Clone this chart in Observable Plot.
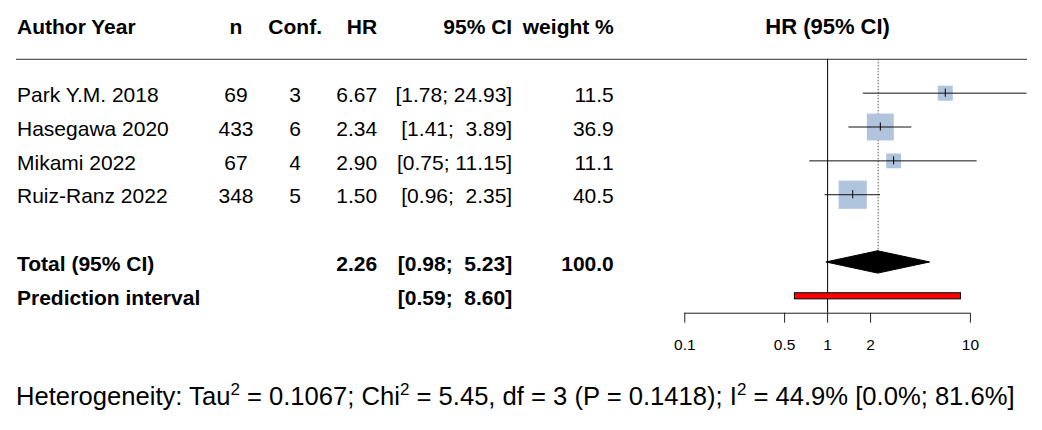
<!DOCTYPE html>
<html>
<head>
<meta charset="utf-8">
<script src="https://cdn.jsdelivr.net/npm/d3@7"></script>
<script src="https://cdn.jsdelivr.net/npm/@observablehq/plot@0.6"></script>
<style>
  html, body { margin: 0; padding: 0; background: #fff; }
  #wrap { position: relative; width: 1042px; height: 430px; font-family: "Liberation Sans", Arial, sans-serif; }
  #chart { position: absolute; left: 0; top: 0; }
  #het { position: absolute; left: 16px; top: 383.5px; font-size: 25.6px; line-height: 1; color: #000; white-space: nowrap; }
  #het sup { font-size: 17px; line-height: 0; vertical-align: 10px; }
</style>
</head>
<body>
<div id="wrap">
  <div id="chart"></div>
  <div id="het"></div>
</div>
<script>
// ---- data ----
const authors = ["Park Y.M. 2018", "Hasegawa 2020", "Mikami 2022", "Ruiz-Ranz 2022"];
const nPatients = [69, 433, 67, 348];
const confounders = [3, 6, 4, 5];
const hrValues = [6.67, 2.34, 2.90, 1.50];
const ciLow = [1.78, 1.41, 0.75, 0.96];
const ciHigh = [24.93, 3.89, 11.15, 2.35];
const weights = [11.5, 36.9, 11.1, 40.5];

const totalHR = 2.26, totalLow = 0.98, totalHigh = 5.23, totalWeight = 100.0;
const predLow = 0.59, predHigh = 8.60;

const axisTicks = [0.1, 0.5, 1, 2, 10];
const headerLabels = ["Author Year", "n", "Conf.", "HR", "95% CI", "weight %"];
const forestTitle = "HR (95% CI)";

const tau2 = 0.1067, chi2 = 5.45, dfHet = 3, pHet = 0.1418, i2 = 44.9, i2Low = 0.0, i2High = 81.6;

// ---- formatting ----
const NB = "\u00a0";
const f2 = v => v.toFixed(2);
const padTo = (s, n) => NB.repeat(Math.max(0, n - s.length)) + s;
const hiWidth = Math.max(...ciHigh.map(v => f2(v).length));
const loWidth = Math.max(...ciLow.map(v => f2(v).length));
const ciText = (lo, hi) => "[" + padTo(f2(lo), loWidth) + "; " + padTo(f2(hi), hiWidth) + "]";

const rows = authors.map((a, i) => ({
  row: i + 1,
  c0: a,
  c1: String(nPatients[i]),
  c2: String(confounders[i]),
  c3: f2(hrValues[i]),
  c4: ciText(ciLow[i], ciHigh[i]),
  c5: weights[i].toFixed(1),
  hr: hrValues[i], lo: ciLow[i], hi: ciHigh[i], w: weights[i]
}));

const totalRow = 6, predRow = 7;
const summaryRows = [
  {row: totalRow, c0: "Total (95% CI)", c1: "", c2: "", c3: f2(totalHR), c4: ciText(totalLow, totalHigh), c5: totalWeight.toFixed(1)},
  {row: predRow, c0: "Prediction interval", c1: "", c2: "", c3: "", c4: ciText(predLow, predHigh), c5: ""}
];

// ---- layout (not data) ----
const headerRow = -0.95;
const axisRow = 7.5;
const tickLen = 0.295;
const diamondHalf = 0.33;
const TFS = 21;
const colPos = [
  {x: 16.5, anchor: "start"},
  {x: 235.5, anchor: "middle"},
  {x: 294.7, anchor: "middle"},
  {x: 376.7, anchor: "end"},
  {x: 511.7, anchor: "end"},
  {x: 613.3, anchor: "end"}
];
const FONT = "Liberation Sans, Arial, sans-serif";

const diamond = [
  {y: totalRow - diamondHalf, x1: totalHR, x2: totalHR},
  {y: totalRow, x1: totalLow, x2: totalHigh},
  {y: totalRow + diamondHalf, x1: totalHR, x2: totalHR}
];

const textMarks = [];
colPos.forEach((c, j) => {
  const key = "c" + j;
  textMarks.push(Plot.text([headerLabels[j]], {
    y: () => headerRow, text: d => d, frameAnchor: "left", dx: c.x,
    textAnchor: c.anchor, fontWeight: "bold", fontSize: TFS, fill: "black"
  }));
  textMarks.push(Plot.text(rows, {
    y: "row", text: key, frameAnchor: "left", dx: c.x, dy: 2,
    textAnchor: c.anchor, fontSize: TFS, fill: "black"
  }));
  textMarks.push(Plot.text(summaryRows, {
    y: "row", text: key, frameAnchor: "left", dx: c.x, dy: 2,
    textAnchor: c.anchor, fontSize: TFS, fontWeight: "bold", fill: "black"
  }));
});

const chart = Plot.plot({
  width: 1042,
  height: 360,
  marginTop: 0, marginLeft: 0, marginRight: 0, marginBottom: 47.3,
  style: {fontFamily: FONT, color: "black", background: "white", overflow: "visible"},
  x: {type: "log", domain: [axisTicks[0], axisTicks[axisTicks.length - 1]], range: [684.3, 969.9], axis: null},
  y: {domain: [0, 7], range: [58.8, 295.8], axis: null},
  r: {type: "sqrt", domain: [0, 100], range: [0, 25]},
  marks: [
    // header rule
    Plot.ruleY([0], {insetLeft: 16, insetRight: 15, stroke: "#333", strokeWidth: 1}),
    // line of no effect
    Plot.ruleX([1], {y1: 0, y2: axisRow, stroke: "black", strokeWidth: 1}),
    // pooled estimate dotted line
    Plot.ruleX([totalHR], {y1: 0, y2: totalRow - diamondHalf, stroke: "#555", strokeWidth: 1, strokeDasharray: "1.5,1.5"}),
    // study squares
    Plot.dot(rows, {x: "hr", y: "row", r: "w", symbol: "square", fill: "#b0c4de", stroke: "none"}),
    // confidence intervals
    Plot.ruleY(rows, {y: "row", x1: "lo", x2: "hi", stroke: "#111", strokeWidth: 1}),
    // estimate ticks
    Plot.ruleX(rows, {x: "hr", y1: d => d.row - 0.12, y2: d => d.row + 0.12, stroke: "black", strokeWidth: 1}),
    // diamond
    Plot.areaX(diamond, {y: "y", x1: "x1", x2: "x2", fill: "black", stroke: "black", curve: "linear"}),
    // prediction interval
    Plot.rect([{lo: predLow, hi: predHigh}], {x1: "lo", x2: "hi", y1: () => predRow - 0.09, y2: () => predRow + 0.09, fill: "red", stroke: "black", strokeWidth: 1}),
    // x axis: line, ticks, labels
    Plot.ruleY([axisRow], {x1: axisTicks[0], x2: axisTicks[axisTicks.length - 1], stroke: "#222", strokeWidth: 1}),
    Plot.ruleX(axisTicks, {x: d => d, y1: () => axisRow, y2: () => axisRow + tickLen, stroke: "#222", strokeWidth: 1}),
    Plot.text(axisTicks, {x: d => d, y: () => axisRow, dy: 31.6, text: d => String(d), fontSize: 15.5, fill: "black"}),
    // forest title
    Plot.text([forestTitle], {x: () => 1, y: () => headerRow, text: d => d, fontSize: 22, fontWeight: "bold", fill: "black"}),
    ...textMarks
  ]
});
document.getElementById("chart").appendChild(chart);

document.getElementById("het").innerHTML =
  `Heterogeneity: Tau<sup>2</sup> = ${tau2.toFixed(4)}; Chi<sup>2</sup> = ${chi2.toFixed(2)}, df = ${dfHet} (P = ${pHet.toFixed(4)}); I<sup>2</sup> = ${i2.toFixed(1)}% [${i2Low.toFixed(1)}%; ${i2High.toFixed(1)}%]`;
</script>
</body>
</html>
